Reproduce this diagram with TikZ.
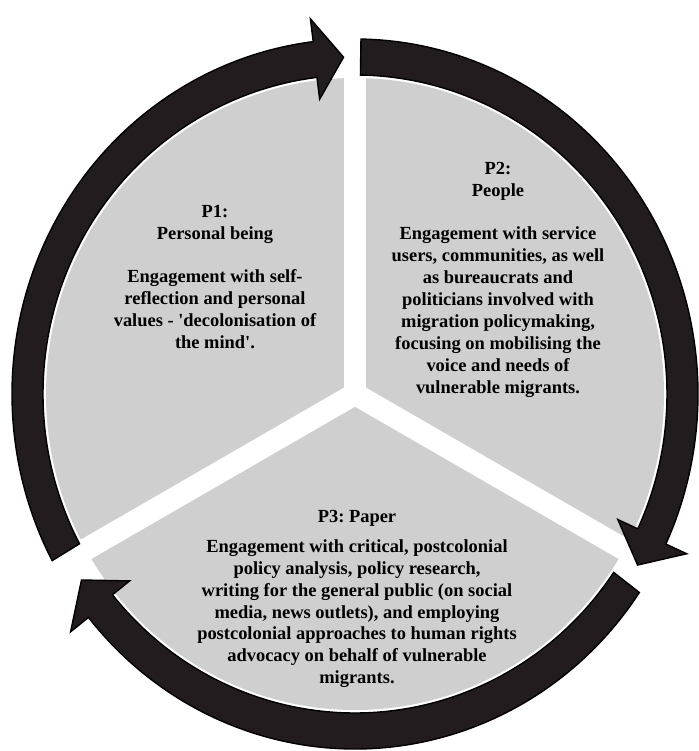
\documentclass[tikz,border=0pt]{standalone}
\usepackage{fontspec}
\setmainfont{Liberation Serif}
\usepackage{xcolor}
\usepackage{tikz}
\usetikzlibrary{positioning}

\definecolor{ringdark}{RGB}{35,28,30}
\definecolor{sectorgrey}{RGB}{207,207,207}

\begin{document}
\frenchspacing
\begin{tikzpicture}[
            x=0.02cm, y=0.02cm,
            sector/.style={fill=sectorgrey},
            gapline/.style={white, line width=0.44cm},
            cyclearrow/.style={fill=ringdark, draw=black, line width=0.8pt, line join=miter},
            label/.style={align=center, inner sep=0pt, font=\bfseries\fontsize{10.5}{12.5}\selectfont}
        ]
        \useasboundingbox (-355,-357) rectangle (343,394);
        \coordinate (centre) at (0,0);

        % grey disk, cut in three
        \fill[sector] (centre) ellipse[x radius=309, y radius=316];
        \foreach \a in {90,210,330}
            \draw[gapline] (centre) -- (\a:330 and 330);

        % the three arrows round the disk
        \foreach \s/\e/\t in {208/97/92, 89/-25/-30.5, -34/-141/-146.5}
            \filldraw[cyclearrow] (\s:312 and 319) -- (\s:343 and 355)
                arc[start angle=\s, end angle=\e, x radius=343, y radius=355]
                -- (\e:366 and 378) -- (\t:328 and 337) -- (\e:290 and 297)
                -- (\e:312 and 319)
                arc[start angle=\e, end angle=\s, x radius=312, y radius=319] -- cycle;

        \node[label] (p1) at (-140,117) {P1:\\Personal being\\[12pt]
            Engagement with self-\\reflection and personal\\values - \textquotesingle decolonisation of\\the mind\textquotesingle.};
        \node[label] (p2) at (143,114) {P2:\\People\\[12pt]
            Engagement with service\\users, communities, as well\\as bureaucrats and\\politicians involved with\\migration policymaking,\\focusing on mobilising the\\voice and needs of\\vulnerable migrants.};
        \node[label] (p3) at (2,-205) {P3: Paper\\[4.5pt]
            Engagement with critical, postcolonial\\policy analysis, policy research,\hspace*{3em}\\writing for the general public (on social\\media, news outlets), and employing\\postcolonial approaches to human rights\\advocacy on behalf of vulnerable\\migrants.};

    \end{tikzpicture}
\end{document}
